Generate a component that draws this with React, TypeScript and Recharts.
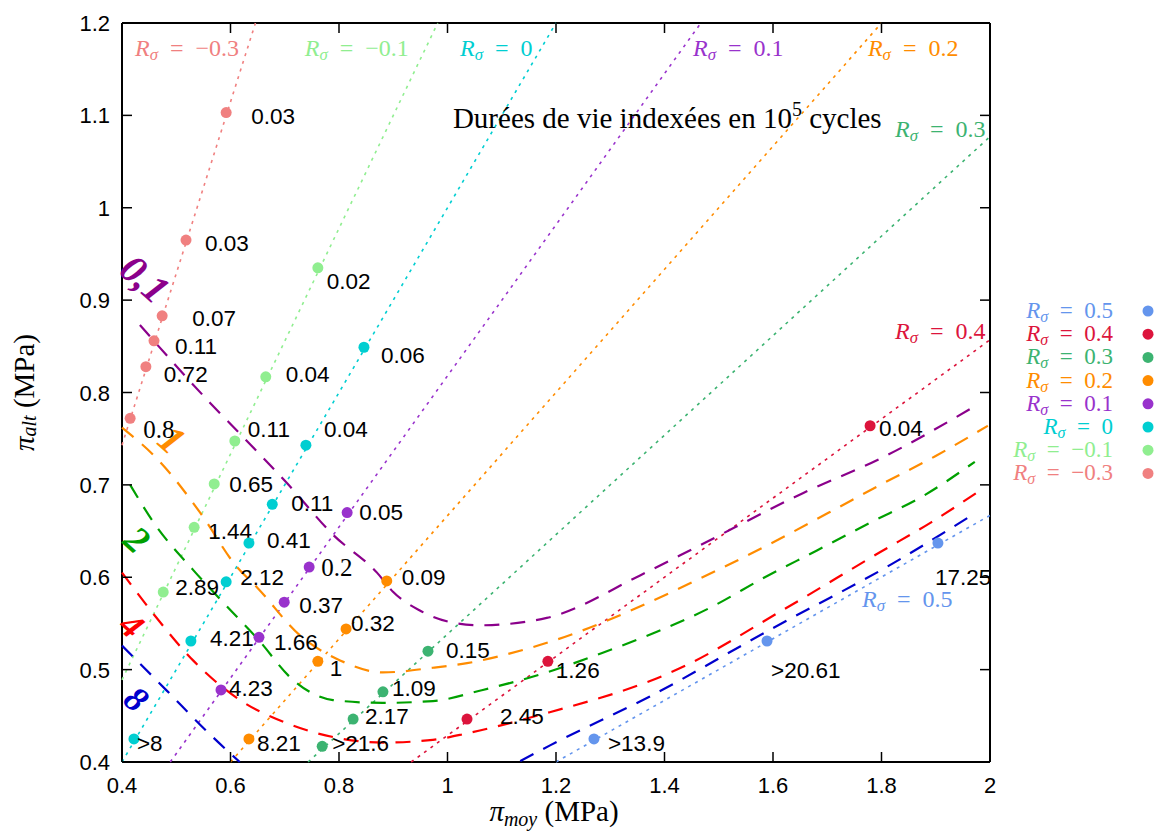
import React from "react";
import { ScatterChart, Scatter, XAxis, YAxis, ReferenceLine, ReferenceDot, Legend } from "recharts";

const SANS = '"Liberation Sans", Arial, sans-serif';
const SERIF = '"Liberation Serif", "Times New Roman", serif';

const X_TICKS = [0.4, 0.6, 0.8, 1, 1.2, 1.4, 1.6, 1.8, 2];
const Y_TICKS = [0.4, 0.5, 0.6, 0.7, 0.8, 0.9, 1, 1.1, 1.2];

// measured points, one set per R_sigma (pi_moy, pi_alt, life in 1e5 cycles)
const MOY_RM03 = [0.592, 0.518, 0.474, 0.459, 0.444, 0.415];
const ALT_RM03 = [1.103, 0.965, 0.883, 0.856, 0.828, 0.772];
const LIFE_RM03 = ["0.03", "0.03", "0.07", "0.11", "0.72", "0.8"];

const MOY_RM01 = [0.761, 0.665, 0.608, 0.57, 0.533, 0.476];
const ALT_RM01 = [0.935, 0.817, 0.7475, 0.701, 0.654, 0.584];
const LIFE_RM01 = ["0.02", "0.04", "0.11", "0.65", "1.44", "2.89"];

const MOY_R00 = [0.846, 0.739, 0.677, 0.634, 0.592, 0.527, 0.422];
const ALT_R00 = [0.849, 0.743, 0.679, 0.637, 0.595, 0.531, 0.425];
const LIFE_R00 = ["0.06", "0.04", "0.11", "0.41", "2.12", "4.21", ">8"];

const MOY_R01 = [0.815, 0.745, 0.699, 0.6525, 0.5825];
const ALT_R01 = [0.67, 0.611, 0.573, 0.535, 0.478];
const LIFE_R01 = ["0.05", "0.2", "0.37", "1.66", "4.23"];

const MOY_R02 = [0.888, 0.813, 0.761, 0.634];
const ALT_R02 = [0.596, 0.544, 0.509, 0.425];
const LIFE_R02 = ["0.09", "0.32", "1", "8.21"];

const MOY_R03 = [0.964, 0.881, 0.826, 0.769];
const ALT_R03 = [0.52, 0.476, 0.4465, 0.417];
const LIFE_R03 = ["0.15", "1.09", "2.17", ">21.6"];

const MOY_R04 = [1.779, 1.185, 1.036];
const ALT_R04 = [0.764, 0.509, 0.4465];
const LIFE_R04 = ["0.04", "1.26", "2.45"];

const MOY_R05 = [1.904, 1.589, 1.27];
const ALT_R05 = [0.637, 0.531, 0.425];
const LIFE_R05 = ["17.25", ">20.61", ">13.9"];

// constant R_sigma rays, end points as read on the frame
const LINE_RM03 = [[0.4, 0.743], [0.646, 1.2]];
const LINE_RM01 = [[0.4, 0.489], [0.982, 1.2]];
const LINE_R00 = [[0.4, 0.4], [1.2, 1.2]];
const LINE_R01 = [[0.489, 0.4], [1.467, 1.2]];
const LINE_R02 = [[0.6, 0.4], [1.8, 1.2]];
const LINE_R03 = [[0.743, 0.4], [2, 1.077]];
const LINE_R04 = [[0.933, 0.4], [2, 0.857]];
const LINE_R05 = [[1.2, 0.4], [2, 0.667]];

// iso-life curves (dashed)
const MOY_C01 = [0.433, 0.562, 0.623, 0.704, 0.789, 0.87, 0.9, 0.949, 1.018, 1.06, 1.183, 1.355, 1.46, 1.655, 1.803, 1.969];
const ALT_C01 = [0.873, 0.789, 0.752, 0.702, 0.646, 0.605, 0.584, 0.564, 0.55, 0.548, 0.556, 0.602, 0.633, 0.691, 0.73, 0.784];

const MOY_C1 = [0.4, 0.47, 0.544, 0.612, 0.649, 0.728, 0.802, 0.881, 0.973, 1.036, 1.158, 1.502, 1.604, 1.703, 1.801, 1.899, 1.996];
const ALT_C1 = [0.762, 0.725, 0.67, 0.611, 0.589, 0.537, 0.51, 0.497, 0.502, 0.507, 0.5245, 0.609, 0.639, 0.67, 0.701, 0.731, 0.764];

const MOY_C2 = [0.415, 0.461, 0.531, 0.594, 0.649, 0.715, 0.789, 0.881, 0.973, 1.065, 1.183, 1.285, 1.386, 1.484, 1.585, 1.681, 1.779, 1.877, 1.972];
const ALT_C2 = [0.7, 0.657, 0.608, 0.568, 0.534, 0.489, 0.467, 0.464, 0.466, 0.478, 0.497, 0.518, 0.541, 0.567, 0.6, 0.629, 0.659, 0.688, 0.725];

const MOY_C4 = [0.4, 0.457, 0.531, 0.6175, 0.704, 0.789, 0.881, 0.973, 1.036, 1.158, 1.434, 1.618, 1.797, 1.893, 1.982];
const ALT_C4 = [0.605, 0.561, 0.51, 0.467, 0.442, 0.427, 0.421, 0.424, 0.431, 0.449, 0.503, 0.5645, 0.627, 0.66, 0.694];

const MOY_C8A = [0.4, 0.483, 0.562, 0.617];
const ALT_C8A = [0.526, 0.477, 0.43, 0.4];
const MOY_C8B = [1.134, 1.189, 1.373, 1.6, 1.821, 1.969];
const ALT_C8B = [0.401, 0.418, 0.471, 0.545, 0.615, 0.668];

// layout only: label offsets in px [dx, dy] and annotation anchors
const NUDGE_RM03 = [[25, 3], [19, 3], [30, 2], [21, 5], [18, 7], [13, 12]];
const NUDGE_RM01 = [[9, 13], [20, -3], [13, -12], [15, 0], [14, 4], [12, -5]];
const NUDGE_R00 = [[17, 8], [18, -16], [19, -1], [18, -3], [14, -5], [19, -3], [3, 4]];
const NUDGE_R01 = [[12, -1], [12, 1], [15, 3], [15, 5], [8, -2]];
const NUDGE_R02 = [[15, -4], [5, -6], [12, 7], [8, 4]];
const NUDGE_R03 = [[18, -1], [9, -4], [12, -3], [10, -3]];
const NUDGE_R04 = [[9, 2], [8, 9], [33, -3]];
const NUDGE_R05 = [[-3, 34], [4, 29], [14, 4]];

const SERIES = [
  { key: "m03", r: "\u22120.3", color: "#f08080", moy: MOY_RM03, alt: ALT_RM03, life: LIFE_RM03, nudge: NUDGE_RM03, line: LINE_RM03, tag: [0.424, 1.164] },
  { key: "m01", r: "\u22120.1", color: "#90ee90", moy: MOY_RM01, alt: ALT_RM01, life: LIFE_RM01, nudge: NUDGE_RM01, line: LINE_RM01, tag: [0.737, 1.164] },
  { key: "p00", r: "0", color: "#00ced1", moy: MOY_R00, alt: ALT_R00, life: LIFE_R00, nudge: NUDGE_R00, line: LINE_R00, tag: [1.023, 1.164] },
  { key: "p01", r: "0.1", color: "#9932cc", moy: MOY_R01, alt: ALT_R01, life: LIFE_R01, nudge: NUDGE_R01, line: LINE_R01, tag: [1.4525, 1.164] },
  { key: "p02", r: "0.2", color: "#ff8c00", moy: MOY_R02, alt: ALT_R02, life: LIFE_R02, nudge: NUDGE_R02, line: LINE_R02, tag: [1.775, 1.164] },
  { key: "p03", r: "0.3", color: "#3cb371", moy: MOY_R03, alt: ALT_R03, life: LIFE_R03, nudge: NUDGE_R03, line: LINE_R03, tag: [1.825, 1.077] },
  { key: "p04", r: "0.4", color: "#dc143c", moy: MOY_R04, alt: ALT_R04, life: LIFE_R04, nudge: NUDGE_R04, line: LINE_R04, tag: [1.825, 0.858] },
  { key: "p05", r: "0.5", color: "#6495ed", moy: MOY_R05, alt: ALT_R05, life: LIFE_R05, nudge: NUDGE_R05, line: LINE_R05, tag: [1.764, 0.568] },
];

const SERIF_LABELS = ["m03:5", "p01:1"];

const ISO = [
  { key: "c01", label: "0,1", color: "#8b008b", pieces: [[MOY_C01, ALT_C01]], tag: [0.442, 0.923], size: 40 },
  { key: "c1", label: "1", color: "#ff8c00", pieces: [[MOY_C1, ALT_C1]], tag: [0.492, 0.749], size: 40 },
  { key: "c2", label: "2", color: "#00a000", pieces: [[MOY_C2, ALT_C2]], tag: [0.428, 0.641], size: 38 },
  { key: "c4", label: "4", color: "#ff0000", pieces: [[MOY_C4, ALT_C4]], tag: [0.418, 0.548], size: 36 },
  { key: "c8", label: "8", color: "#0000cd", pieces: [[MOY_C8A, ALT_C8A], [MOY_C8B, ALT_C8B]], tag: [0.426, 0.468], size: 36 },
];

const PLOT_W = 868;
const PLOT_H = 739;

const pointsOf = (s) =>
  s.moy.map((m, i) => ({
    moy: m,
    alt: s.alt[i],
    life: s.life[i],
    dx: s.nudge[i][0],
    dy: s.nudge[i][1],
    serif: SERIF_LABELS.includes(s.key + ":" + i),
    color: s.color,
  }));

const curveOf = (moy, alt) => moy.map((m, i) => ({ moy: m, alt: alt[i] }));

function RText({ x, y, value, color, anchor = "start", size = 24 }) {
  return (
    <text x={x} y={y} fill={color} fontFamily={SERIF} fontSize={size} textAnchor={anchor}>
      <tspan fontStyle="italic">R</tspan>
      <tspan fontStyle="italic" fontSize={size * 0.7} dy={4}>σ</tspan>
      <tspan dy={-4}>{"\u2002=\u2002" + value}</tspan>
    </text>
  );
}

function PointShape(props) {
  const { cx, cy, payload } = props;
  if (cx == null || cy == null) return <g />;
  return (
    <g>
      <circle cx={cx} cy={cy} r={5.5} fill={payload.color} />
      <text
        x={cx + payload.dx}
        y={cy + payload.dy + 8}
        fontFamily={payload.serif ? SERIF : SANS}
        fontSize={payload.serif ? 25 : 22.5}
        fill="#000"
      >
        {payload.life}
      </text>
    </g>
  );
}

const NoShape = () => <g />;

// ticks point inwards and are mirrored on the top and right sides of the frame
function BottomTick({ x, y, payload }) {
  return (
    <g>
      <line x1={x} y1={y} x2={x} y2={y - 10} stroke="#000" strokeWidth={1.5} />
      <line x1={x} y1={y - PLOT_H} x2={x} y2={y - PLOT_H + 10} stroke="#000" strokeWidth={1.5} />
      <text x={x} y={y} dy={31} textAnchor="middle" fontFamily={SANS} fontSize={22} fill="#000">
        {String(payload.value)}
      </text>
    </g>
  );
}

function LeftTick({ x, y, payload }) {
  return (
    <g>
      <line x1={x} y1={y} x2={x + 10} y2={y} stroke="#000" strokeWidth={1.5} />
      <line x1={x + PLOT_W} y1={y} x2={x + PLOT_W - 10} y2={y} stroke="#000" strokeWidth={1.5} />
      <text x={x - 12} y={y} dy={8} textAnchor="end" fontFamily={SANS} fontSize={22} fill="#000">
        {String(payload.value)}
      </text>
    </g>
  );
}

function XTitle(props) {
  const vb = props.viewBox || { x: 122, y: 762, width: 868, height: 40 };
  return (
    <text x={vb.x + vb.width / 2 - 2} y={vb.y + 59} textAnchor="middle" fontFamily={SERIF} fontSize={29} fill="#000">
      <tspan fontStyle="italic">π</tspan>
      <tspan fontStyle="italic" fontSize={20} dy={5}>moy</tspan>
      <tspan dy={-5}>{" (MPa)"}</tspan>
    </text>
  );
}

function YTitle(props) {
  const vb = props.viewBox || { x: 42, y: 23, width: 80, height: 739 };
  const cx = vb.x - 18;
  const cy = vb.y + vb.height / 2;
  return (
    <text
      x={cx}
      y={cy}
      transform={`rotate(-90 ${cx} ${cy})`}
      textAnchor="middle"
      dominantBaseline="central"
      fontFamily={SERIF}
      fontSize={29}
      fill="#000"
    >
      <tspan fontStyle="italic">π</tspan>
      <tspan fontStyle="italic" fontSize={20} dy={5}>alt</tspan>
      <tspan dy={-5}>{" (MPa)"}</tspan>
    </text>
  );
}

function renderLegend() {
  const rows = [...SERIES].reverse();
  return (
    <svg width={165} height={200} style={{ overflow: "visible" }}>
      {rows.map((s, i) => (
        <g key={s.key}>
          <RText x={123} y={13 + i * 23.2 + 7} value={s.r} color={s.color} anchor="end" size={23} />
          <circle cx={158} cy={13 + i * 23.2} r={5.5} fill={s.color} />
        </g>
      ))}
    </svg>
  );
}

export default function App() {
  return (
    <div style={{ position: "absolute", left: 0, top: 0, width: 1155, height: 832 }}>
      <ScatterChart width={1155} height={832} margin={{ top: 23, right: 165, bottom: 30, left: 42 }}>
        <XAxis
          type="number"
          dataKey="moy"
          domain={[0.4, 2]}
          ticks={X_TICKS}
          height={40}
          tickSize={0}
          tickMargin={0}
          tick={BottomTick}
          axisLine={false}
          tickLine={false}
          label={XTitle}
        />
        <YAxis
          type="number"
          dataKey="alt"
          domain={[0.4, 1.2]}
          ticks={Y_TICKS}
          width={80}
          tickSize={0}
          tickMargin={0}
          tick={LeftTick}
          axisLine={false}
          tickLine={false}
          label={YTitle}
        />

        {/* frame */}
        <ReferenceLine x={0.4} stroke="#000" strokeWidth={2} />
        <ReferenceLine x={2} stroke="#000" strokeWidth={2} />
        <ReferenceLine y={0.4} stroke="#000" strokeWidth={2} />
        <ReferenceLine y={1.2} stroke="#000" strokeWidth={2} />

        {SERIES.map((s) => (
          <ReferenceLine
            key={"l" + s.key}
            segment={[
              { x: s.line[0][0], y: s.line[0][1] },
              { x: s.line[1][0], y: s.line[1][1] },
            ]}
            stroke={s.color}
            strokeWidth={1.6}
            strokeDasharray="3 5"
          />
        ))}

        {ISO.map((c) =>
          c.pieces.map((p, j) => (
            <Scatter
              key={c.key + j}
              data={curveOf(p[0], p[1])}
              fill={c.color}
              line={{ stroke: c.color, strokeWidth: 2.2, strokeDasharray: "15 11" }}
              lineType="joint"
              lineJointType="monotoneX"
              shape={NoShape}
              legendType="none"
              isAnimationActive={false}
            />
          ))
        )}

        {SERIES.map((s) => (
          <Scatter
            key={"p" + s.key}
            data={pointsOf(s)}
            fill={s.color}
            shape={PointShape}
            isAnimationActive={false}
          />
        ))}

        {SERIES.map((s) => (
          <ReferenceDot
            key={"t" + s.key}
            x={s.tag[0]}
            y={s.tag[1]}
            r={0}
            shape={(p) => <RText x={p.cx} y={p.cy} value={s.r} color={s.color} />}
          />
        ))}

        {ISO.map((c) => (
          <ReferenceDot
            key={"t" + c.key}
            x={c.tag[0]}
            y={c.tag[1]}
            r={0}
            shape={(p) => (
              <text
                x={p.cx}
                y={p.cy}
                transform={`rotate(42 ${p.cx} ${p.cy})`}
                textAnchor="middle"
                dominantBaseline="central"
                fontFamily={SERIF}
                fontWeight="bold"
                fontStyle="italic"
                fontSize={c.size}
                fill={c.color}
              >
                {c.label}
              </text>
            )}
          />
        ))}

        <ReferenceDot
          x={1.01}
          y={1.0863}
          r={0}
          shape={(p) => (
            <text x={p.cx} y={p.cy} fontFamily={SERIF} fontSize={29} fill="#000">
              Durées de vie indexées en 10
              <tspan fontSize={20} dy={-12}>5</tspan>
              <tspan dy={12}>{"\u00a0cycles"}</tspan>
            </text>
          )}
        />

        <Legend
          layout="horizontal"
          verticalAlign="middle"
          align="center"
          content={renderLegend}
          wrapperStyle={{ left: 990, top: 298, width: 165, height: 200 }}
        />
      </ScatterChart>
    </div>
  );
}
